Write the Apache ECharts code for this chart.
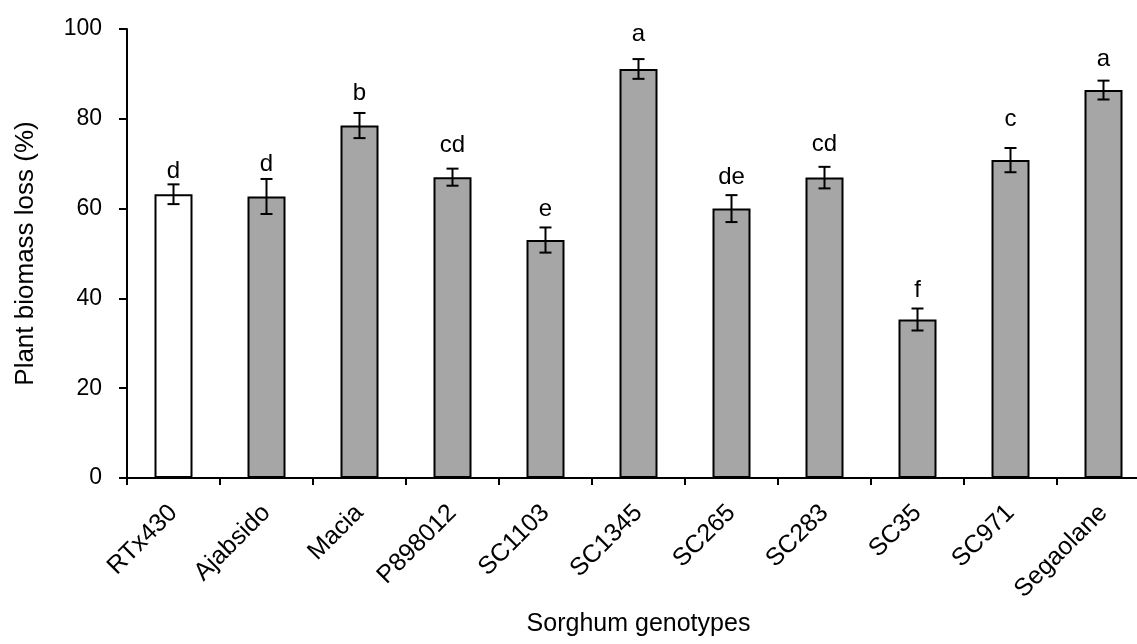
<!DOCTYPE html>
<html>
<head>
<meta charset="utf-8">
<script src="https://cdn.jsdelivr.net/npm/echarts@6/dist/echarts.min.js"></script>
<style>html,body{margin:0;padding:0;background:#fff;}#chart{width:1137px;height:644px;}</style>
</head>
<body>
<div id="chart"></div>
<script>
const categories = ['RTx430','Ajabsido','Macia','P898012','SC1103','SC1345','SC265','SC283','SC35','SC971','Segaolane'];
const values = [63.2, 62.7, 78.5, 67.0, 53.0, 91.1, 60.0, 66.9, 35.3, 70.8, 86.4];
const errors = [2.2, 3.9, 2.8, 1.9, 2.8, 2.2, 3.0, 2.4, 2.45, 2.7, 2.1];
const letters = ['d','d','b','cd','e','a','de','cd','f','c','a'];
const letterLevels = [66.7, 68.4, 84.2, 72.5, 58.2, 97.2, 65.5, 72.7, 40.2, 78.4, 91.6];
const yTicks = [0, 20, 40, 60, 80, 100];

const FONT = '"Liberation Sans", Arial, sans-serif';
const chart = echarts.init(document.getElementById('chart'));

const barData = values.map((v, i) => ({
  value: v,
  itemStyle: { color: i === 0 ? '#ffffff' : '#a6a6a6' }
}));
const errData = values.map((v, i) => [i, v, errors[i], letterLevels[i]]);

chart.setOption({
  animation: false,
  backgroundColor: '#fff',
  grid: { left: 127, top: 29, right: -13, bottom: 166, containLabel: false, outerBoundsMode: 'none' },
  xAxis: {
    type: 'category',
    data: categories,
    boundaryGap: true,
    name: 'Sorghum genotypes',
    nameLocation: 'middle',
    nameGap: 134,
    nameTextStyle: { fontFamily: FONT, fontSize: 25, color: '#000' },
    axisLine: { lineStyle: { color: '#000', width: 2 } },
    axisTick: { show: true, length: 7, inside: false, lineStyle: { color: '#000', width: 2 } },
    axisLabel: { rotate: 45, margin: 31, fontFamily: FONT, fontSize: 25, color: '#000', interval: 0 },
    splitLine: { show: false }
  },
  yAxis: {
    type: 'value',
    min: 0, max: 100, interval: 20,
    name: 'Plant biomass loss (%)',
    nameLocation: 'middle',
    nameGap: 88,
    nameTextStyle: { fontFamily: FONT, fontSize: 26, color: '#000' },
    axisLine: { show: true, lineStyle: { color: '#000', width: 2 } },
    axisTick: { show: true, length: 8, lineStyle: { color: '#000', width: 2 } },
    axisLabel: {
      fontFamily: FONT, fontSize: 23, color: '#000', margin: 25,
      formatter: v => yTicks.includes(v) ? String(v) : ''
    },
    splitLine: { show: false }
  },
  series: [
    {
      type: 'bar',
      data: barData,
      barWidth: 38,
      itemStyle: { borderColor: '#000', borderWidth: 2 },
      z: 2
    },
    {
      type: 'custom',
      data: errData,
      z: 5,
      renderItem: function (params, api) {
        const x = api.value(0);
        const v = api.value(1);
        const e = api.value(2);
        const lv = api.value(3);
        const top = api.coord([x, v + e]);
        const bot = api.coord([x, v - e]);
        const lab = api.coord([x, lv]);
        const hw = 6;
        const style = { stroke: '#000', lineWidth: 2 };
        return {
          type: 'group',
          children: [
            { type: 'line', shape: { x1: top[0], y1: top[1], x2: bot[0], y2: bot[1] }, style },
            { type: 'line', shape: { x1: top[0] - hw, y1: top[1], x2: top[0] + hw, y2: top[1] }, style },
            { type: 'line', shape: { x1: bot[0] - hw, y1: bot[1], x2: bot[0] + hw, y2: bot[1] }, style },
            { type: 'text', style: {
                text: letters[params.dataIndex], x: lab[0], y: lab[1] + 5,
                textAlign: 'center', textVerticalAlign: 'bottom',
                fontFamily: FONT, fontSize: 24, fill: '#000'
              } }
          ]
        };
      }
    }
  ]
});
</script>
</body>
</html>
